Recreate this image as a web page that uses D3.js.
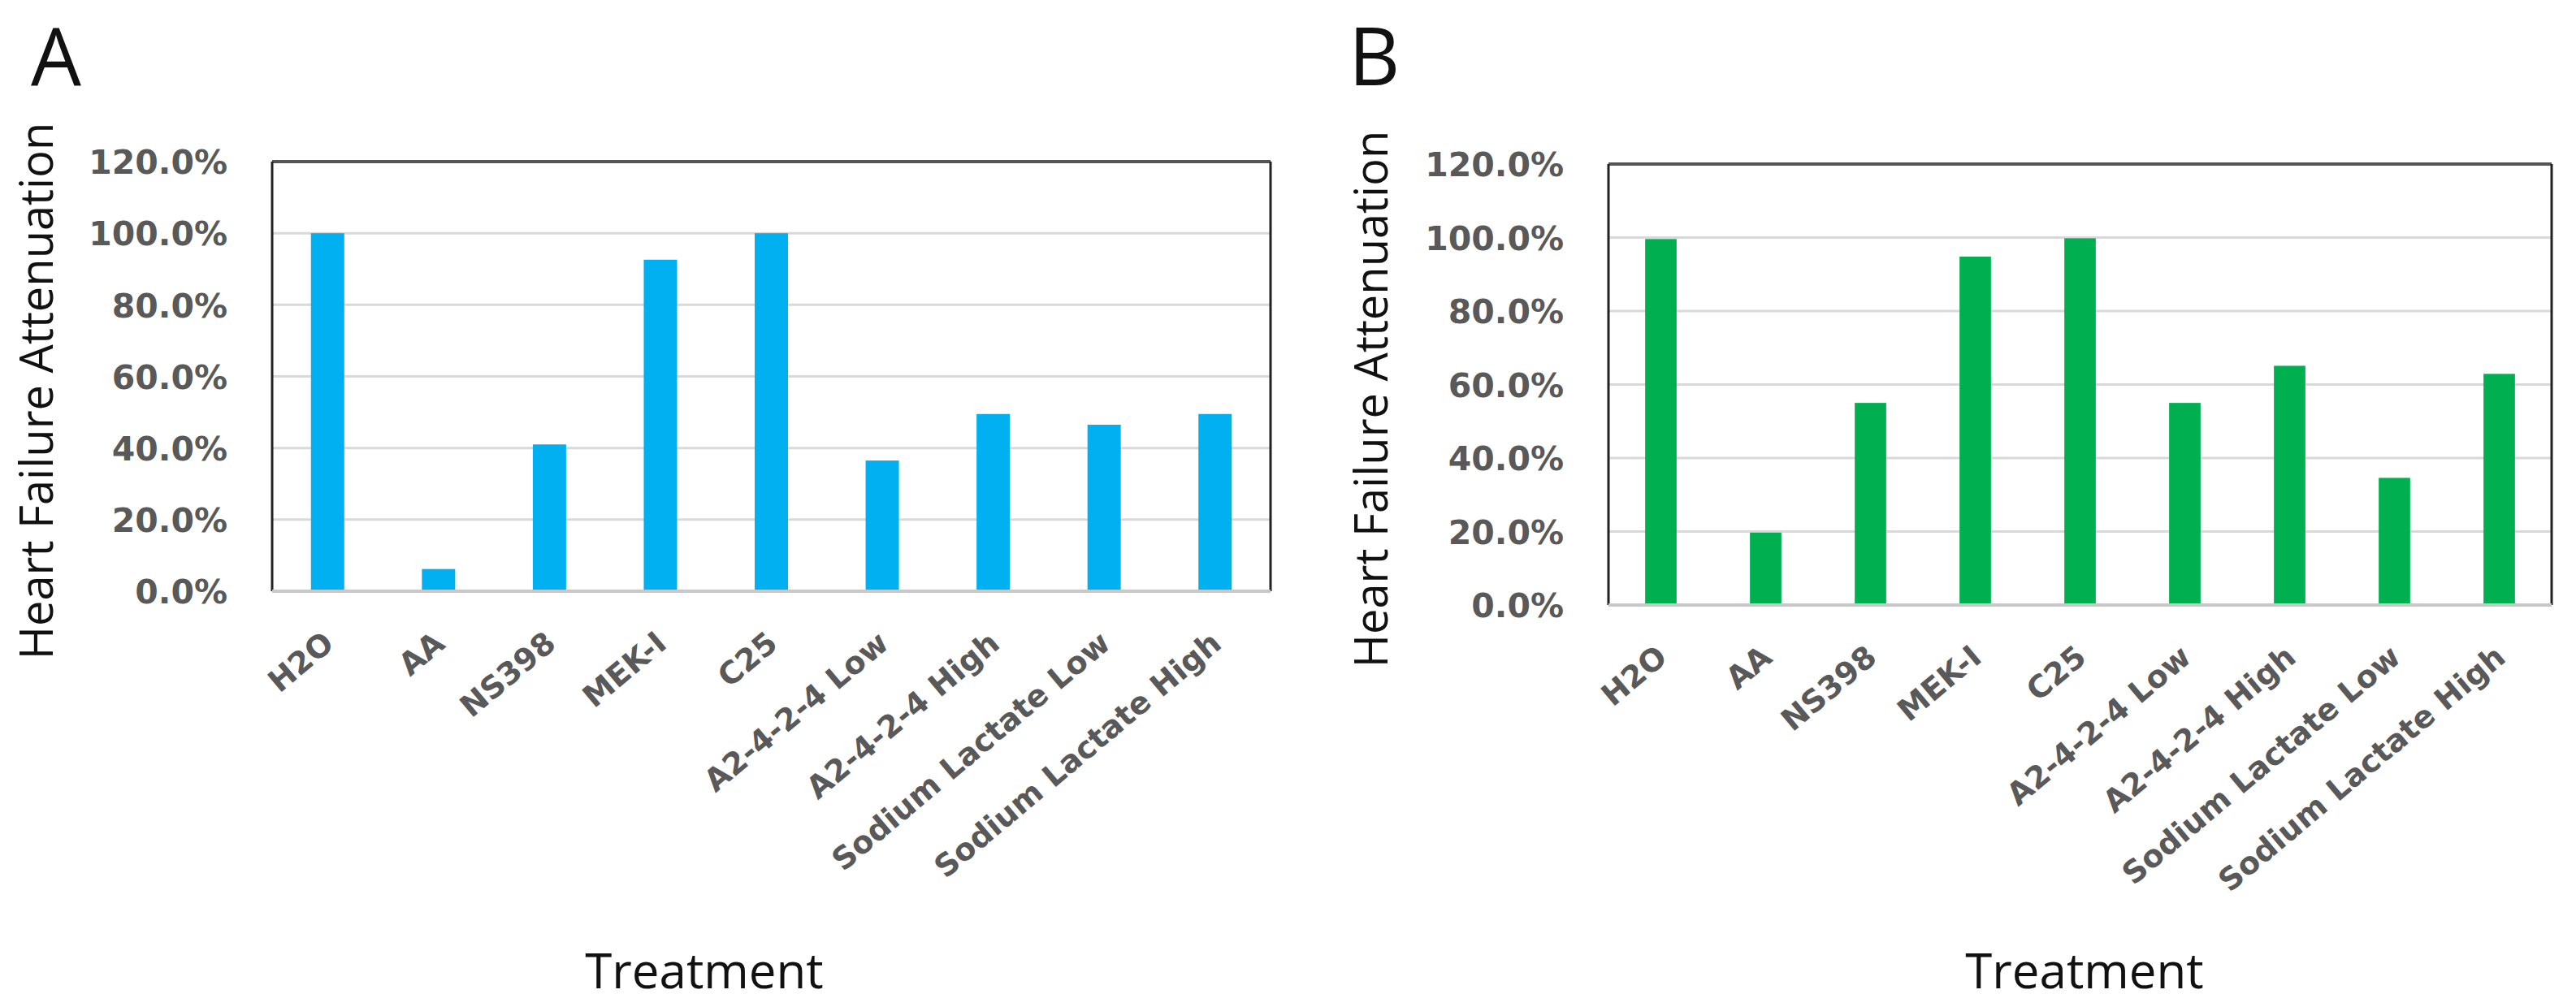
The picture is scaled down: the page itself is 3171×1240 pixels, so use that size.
<!DOCTYPE html>
<html>
<head>
<meta charset="utf-8">
<script src="https://cdn.jsdelivr.net/npm/d3@7"></script>
<style>
  body { margin: 0; background: #fff; }
  .tick-y { font-family: "DejaVu Sans"; font-weight: bold; fill: #595959; }
  .tick-x { font-family: "DejaVu Sans"; font-weight: bold; fill: #595959; }
  .title { font-family: "Open Sans"; fill: #111; }
</style>
</head>
<body>
<script>
// data (percent)
var categories = ["H2O", "AA", "NS398", "MEK-I", "C25", "A2-4-2-4 Low", "A2-4-2-4 High", "Sodium Lactate Low", "Sodium Lactate High"]
var valuesA = [100.0, 6.2, 41.0, 92.6, 100.0, 36.5, 49.5, 46.5, 49.5]
var valuesB = [99.6, 19.7, 55.0, 94.8, 99.8, 55.0, 65.1, 34.6, 62.9]
var yTicks = [0, 20, 40, 60, 80, 100, 120]
var yTitle = "Heart Failure Attenuation"
var xTitle = "Treatment"

function main() {
  var svg = d3.select("body").append("svg").attr("width", 3171).attr("height", 1240)
  svg.append("rect").attr("width", 3171).attr("height", 1240).attr("fill", "#fff")

  drawPanel(svg, {
    letter: "A", letterX: 38, values: valuesA, color: "#00B0F0",
    left: 335, right: 1564, top: 199, bottom: 728,
    yTitleX: 43, xTitleX: 867
  })
  drawPanel(svg, {
    letter: "B", letterX: 1660, values: valuesB, color: "#00B050",
    left: 1980, right: 3141, top: 202, bottom: 745,
    yTitleX: 1686, xTitleX: 2566
  })
}

function drawPanel(svg, p) {
  var x = d3.scaleBand().domain(categories).range([p.left, p.right])
    .paddingInner(0.7).paddingOuter(0.35)
  var y = d3.scaleLinear().domain([0, 120]).range([p.bottom, p.top])

  // gridlines
  svg.append("g").selectAll("line")
    .data(yTicks)
    .enter()
    .append("line")
    .attr("x1", p.left).attr("x2", p.right)
    .attr("y1", function(d) { return y(d) }).attr("y2", function(d) { return y(d) })
    .attr("stroke", "#D9D9D9").attr("stroke-width", 3)

  // plot border
  svg.append("line").attr("x1", p.left).attr("x2", p.right).attr("y1", p.top).attr("y2", p.top)
    .attr("stroke", "#555").attr("stroke-width", 4)
  svg.append("line").attr("x1", p.left).attr("x2", p.left).attr("y1", p.top).attr("y2", p.bottom)
    .attr("stroke", "#222").attr("stroke-width", 3)
  svg.append("line").attr("x1", p.right).attr("x2", p.right).attr("y1", p.top).attr("y2", p.bottom)
    .attr("stroke", "#222").attr("stroke-width", 3)

  // bars
  svg.append("g").selectAll("rect")
    .data(p.values)
    .enter()
    .append("rect")
    .attr("x", function(d, i) { return x(categories[i]) })
    .attr("width", x.bandwidth())
    .attr("y", function(d) { return y(d) })
    .attr("height", function(d) { return y(0) - y(d) })
    .attr("fill", p.color)

  svg.append("line").attr("x1", p.left).attr("x2", p.right).attr("y1", p.bottom).attr("y2", p.bottom)
    .attr("stroke", "#C8C8C8").attr("stroke-width", 4)

  // y axis with the library, domain and ticks hidden
  var yAxis = svg.append("g")
    .attr("transform", "translate(" + (p.left - 55) + ",0)")
    .call(d3.axisLeft(y).tickValues(yTicks).tickSize(0).tickPadding(0)
      .tickFormat(function(d) { return d.toFixed(1) + "%" }))
  yAxis.select(".domain").remove()
  yAxis.selectAll("text").attr("class", "tick-y").attr("font-size", 41)
    .attr("text-anchor", "end").attr("dy", "0.36em")

  // category labels
  var xAxis = svg.append("g")
    .attr("transform", "translate(0," + (p.bottom + 68) + ")")
    .call(d3.axisBottom(x).tickSize(0).tickPadding(0))
  xAxis.select(".domain").remove()
  xAxis.selectAll("text").attr("class", "tick-x").attr("font-size", 38)
    .attr("text-anchor", "end").attr("dy", 0).attr("y", 0)
    .attr("transform", "translate(10,0) rotate(-40)")

  // titles
  svg.append("text").attr("class", "title").text(p.letter)
    .attr("x", p.letterX).attr("y", 105).attr("font-size", 98)
  svg.append("text").attr("class", "title").text(yTitle)
    .attr("transform", "translate(" + p.yTitleX + "," + ((p.top + p.bottom) / 2 + 18) + ") rotate(-90)")
    .attr("text-anchor", "middle").attr("dominant-baseline", "central")
    .attr("font-size", 56)
  svg.append("text").attr("class", "title").text(xTitle)
    .attr("x", p.xTitleX).attr("y", 1217).attr("text-anchor", "middle")
    .attr("font-size", 60)
}

main()
</script>
</body>
</html>
